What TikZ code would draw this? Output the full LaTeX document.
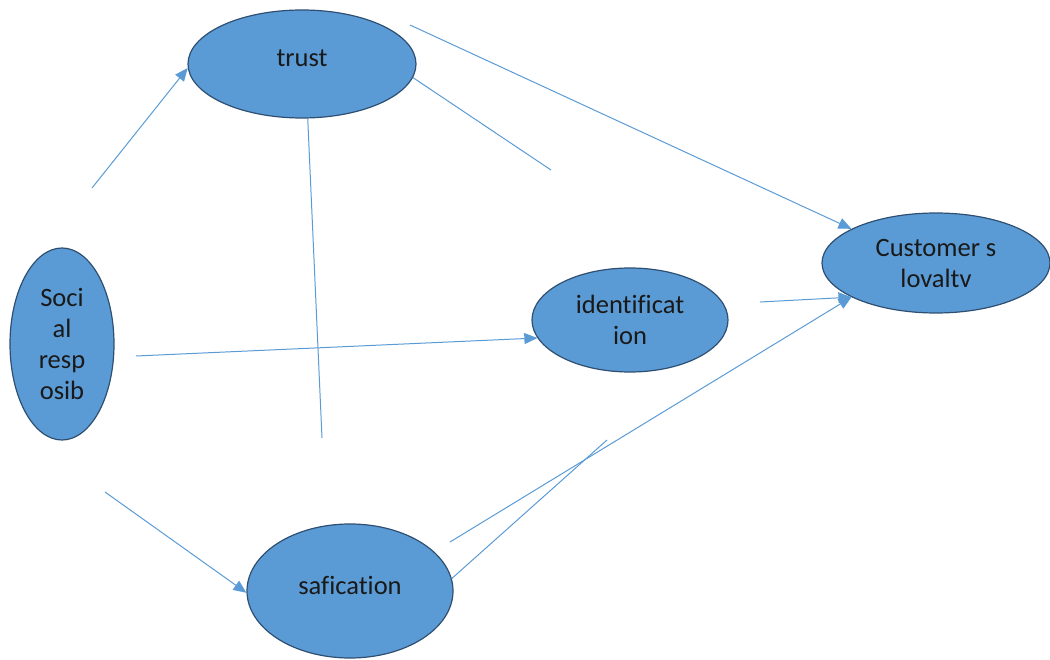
\documentclass[tikz,border=0pt]{standalone}
\usepackage{fontspec}
\setmainfont[Ligatures=NoCommon]{Carlito}
\usepackage{xcolor}
\usetikzlibrary{arrows.meta,shapes.geometric}

\definecolor{boxblue}{HTML}{5B9BD5}
\definecolor{rimblue}{HTML}{2E4F72}
\definecolor{lineblue}{HTML}{5B9BD5}

\begin{document}
\begin{tikzpicture}[x=1pt,y=-1pt,
  bubble/.style={ellipse, draw=rimblue, fill=boxblue, line width=1.2pt,
    inner sep=0pt, align=center, text=black!90,
    font=\fontsize{26.5}{31}\selectfont},
  link/.style={draw=lineblue, line width=1pt},
  arr/.style={link, -{Triangle[length=13pt,width=11pt]}}]
  \useasboundingbox (0,0) rectangle (1050,660);

  % Constructs
  \node[bubble, minimum width=228pt, minimum height=108pt, text depth=11pt] (trust) at (302,64) {trust};
  \node[bubble, minimum width=104pt, minimum height=192pt] (social) at (62,344) {Soci\\al\\resp\\osib};
  \node[bubble, minimum width=196pt, minimum height=104pt] (ident) at (630,320) {identificat\\ion};
  \node[bubble, minimum width=228pt, minimum height=100pt] (cust) at (936,263) {Customer s\\lovaltv};
  \node[bubble, minimum width=206pt, minimum height=134pt, text depth=11pt] (saf) at (350,591) {safication};

  % Free line ends
  \coordinate (srA) at (92,188);
  \coordinate (srB) at (136,356);
  \coordinate (srC) at (105,492);
  \coordinate (trA) at (410,25);
  \coordinate (trB) at (551,170);
  \coordinate (trC) at (322,438);
  \coordinate (idA) at (760,302);
  \coordinate (saA) at (450,542);
  \coordinate (saB) at (607,440);

  % Paths
  \draw[arr] (srA) -- (trust.182);
  \draw[arr] (srB) -- (ident.191);
  \draw[arr] (srC) -- (saf.181);
  \draw[arr] (trA) -- (cust.158);
  \draw[link] (trust.-7) -- (trB);
  \draw[link] (trust.-84) -- (trC);
  \draw[arr] (idA) -- (cust.202);
  \draw[arr] (saA) -- (cust.202);
  \draw[link] (saf.7) -- (saB);
\end{tikzpicture}
\end{document}
